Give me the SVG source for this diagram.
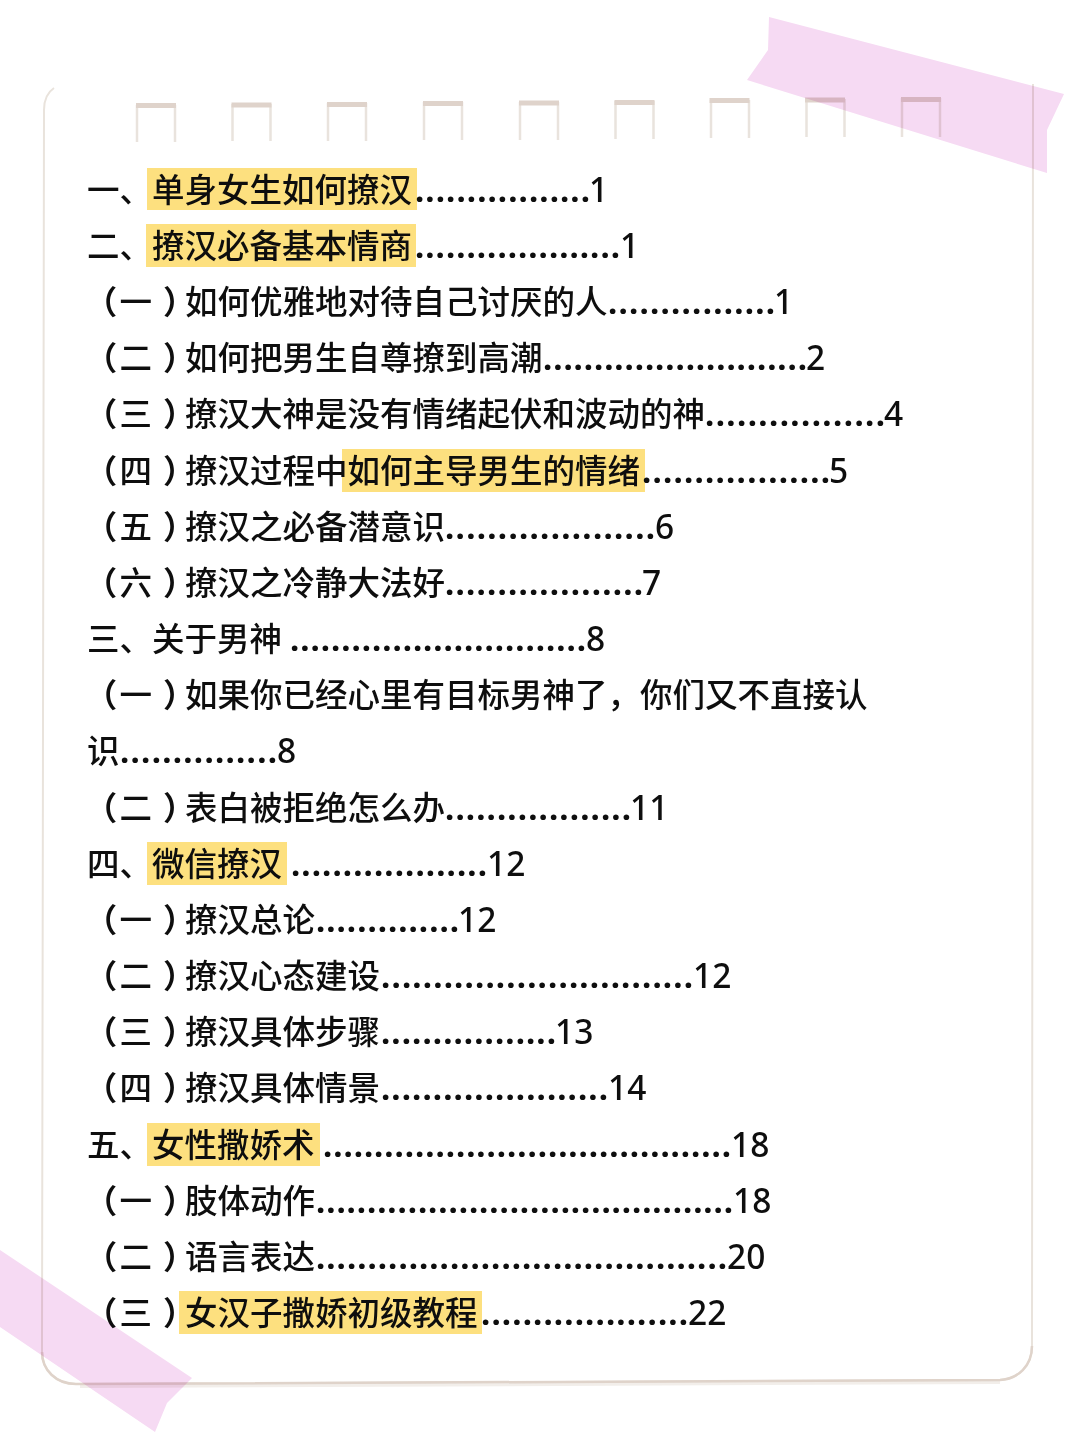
<svg xmlns="http://www.w3.org/2000/svg" width="1080" height="1440" viewBox="0 0 1080 1440">
<defs><style>
text{font-family:"Noto Sans CJK SC","Noto Sans",sans-serif;font-size:32.5px;font-weight:500;fill:#0e0e0e}
.p{font-feature-settings:"halt";font-weight:700}
.n{font-family:"Noto Sans",sans-serif;font-size:33.5px;font-weight:500}
.d{font-family:"Noto Sans",sans-serif;font-size:33px;font-weight:700}
.hl{fill:#fde07f}
.side{fill:none;stroke:#e9e3dd;stroke-width:2.5}
.top{fill:#dfd3cb}
.tape{fill:#f6daf3;mix-blend-mode:multiply}
</style></defs>
<rect width="1080" height="1440" fill="#fff"/>
<g id="page">
<path d="M80 1386L1000 1382" fill="none" stroke="#f2eeea" stroke-width="4"/>
<path d="M54 88C48 92 44 98 44 110L42 1352C42 1370 56 1384 76 1384L1000 1380C1018 1379 1032 1366 1032 1346L1033 84" fill="#fff" stroke="#e9e3dc" stroke-width="2"/>
<path d="M42 1352C42 1370 56 1384 76 1384L1000 1380C1018 1379 1032 1366 1032 1346" fill="none" stroke="#dfd3ca" stroke-width="2.500"/>
</g>
<g id="holes">
<path class="side" d="M137 142V105M175 142V105M232.500 141V104M270.500 141V104M328 141V103M366 141V103M424 140V102M462 140V102M520 140V102M558 140V102M615.500 139V101M653.500 139V101M711 138V100M749 138V100M806.500 137V99M844.500 137V99M902 137V98M940 137V98"/>
<rect class="top" x="136" y="103" width="40" height="5"/>
<rect class="top" x="231.500" y="102.500" width="40" height="5"/>
<rect class="top" x="327" y="102" width="40" height="5"/>
<rect class="top" x="423" y="101" width="40" height="5"/>
<rect class="top" x="519" y="100.500" width="40" height="5"/>
<rect class="top" x="614.500" y="100" width="40" height="5"/>
<rect class="top" x="709.500" y="98" width="40" height="5"/>
<rect class="top" x="805" y="97.500" width="40" height="5"/>
<rect class="top" x="901" y="97" width="40" height="5"/>
</g>
<g id="highlights">
<rect class="hl" x="147" y="168" width="270" height="42"/>
<rect class="hl" x="146" y="224" width="270" height="43"/>
<rect class="hl" x="342" y="449" width="303" height="43"/>
<rect class="hl" x="147" y="842" width="140" height="43"/>
<rect class="hl" x="147" y="1123" width="173" height="43"/>
<rect class="hl" x="179" y="1291" width="303" height="43"/>
</g>
<g id="toc">
<text x="87" y="202">一、单身女生如何撩汉</text><text class="d" x="415" y="202" textLength="175" lengthAdjust="spacing">.................</text><text class="n" x="589" y="202">1</text>
<text x="87" y="258">二、撩汉必备基本情商</text><text class="d" x="415" y="258" textLength="205" lengthAdjust="spacing">....................</text><text class="n" x="620" y="258">1</text>
<text y="314"><tspan class="p" x="101">（</tspan><tspan x="119.500">一</tspan><tspan class="p" x="163">）</tspan><tspan x="185">如何优雅地对待自己讨厌的人</tspan></text><text class="d" x="608" y="314" textLength="167" lengthAdjust="spacing">................</text><text class="n" x="774" y="314">1</text>
<text y="370"><tspan class="p" x="101">（</tspan><tspan x="119.500">二</tspan><tspan class="p" x="163">）</tspan><tspan x="185">如何把男生自尊撩到高潮</tspan></text><text class="d" x="543" y="370" textLength="264" lengthAdjust="spacing">..........................</text><text class="n" x="806" y="370">2</text>
<text y="426"><tspan class="p" x="101">（</tspan><tspan x="119.500">三</tspan><tspan class="p" x="163">）</tspan><tspan x="185">撩汉大神是没有情绪起伏和波动的神</tspan></text><text class="d" x="705" y="426" textLength="180" lengthAdjust="spacing">.................</text><text class="n" x="884" y="426">4</text>
<text y="483"><tspan class="p" x="101">（</tspan><tspan x="119.500">四</tspan><tspan class="p" x="163">）</tspan><tspan x="185">撩汉过程中如何主导男生的情绪</tspan></text><text class="d" x="642" y="483" textLength="188" lengthAdjust="spacing">..................</text><text class="n" x="829" y="483">5</text>
<text y="539"><tspan class="p" x="101">（</tspan><tspan x="119.500">五</tspan><tspan class="p" x="163">）</tspan><tspan x="185">撩汉之必备潜意识</tspan></text><text class="d" x="445" y="539" textLength="210" lengthAdjust="spacing">....................</text><text class="n" x="655" y="539">6</text>
<text y="595"><tspan class="p" x="101">（</tspan><tspan x="119.500">六</tspan><tspan class="p" x="163">）</tspan><tspan x="185">撩汉之冷静大法好</tspan></text><text class="d" x="445" y="595" textLength="198" lengthAdjust="spacing">...................</text><text class="n" x="642" y="595">7</text>
<text x="87" y="651">三、关于男神</text><text class="d" x="290" y="651" textLength="296" lengthAdjust="spacing">.............................</text><text class="n" x="586" y="651">8</text>
<text y="707"><tspan class="p" x="101">（</tspan><tspan x="119.500">一</tspan><tspan class="p" x="163">）</tspan><tspan x="185">如果你已经心里有目标男神了，你们又不直接认</tspan></text>
<text x="87" y="763">识</text><text class="d" x="120" y="763" textLength="157" lengthAdjust="spacing">...............</text><text class="n" x="277" y="763">8</text>
<text y="820"><tspan class="p" x="101">（</tspan><tspan x="119.500">二</tspan><tspan class="p" x="163">）</tspan><tspan x="185">表白被拒绝怎么办</tspan></text><text class="d" x="445" y="820" textLength="186" lengthAdjust="spacing">..................</text><text class="n" x="630" y="820">11</text>
<text x="87" y="876">四、微信撩汉</text><text class="d" x="291" y="876" textLength="196" lengthAdjust="spacing">...................</text><text class="n" x="487" y="876">12</text>
<text y="932"><tspan class="p" x="101">（</tspan><tspan x="119.500">一</tspan><tspan class="p" x="163">）</tspan><tspan x="185">撩汉总论</tspan></text><text class="d" x="316" y="932" textLength="143" lengthAdjust="spacing">..............</text><text class="n" x="458" y="932">12</text>
<text y="988"><tspan class="p" x="101">（</tspan><tspan x="119.500">二</tspan><tspan class="p" x="163">）</tspan><tspan x="185">撩汉心态建设</tspan></text><text class="d" x="381" y="988" textLength="312" lengthAdjust="spacing">..............................</text><text class="n" x="693" y="988">12</text>
<text y="1044"><tspan class="p" x="101">（</tspan><tspan x="119.500">三</tspan><tspan class="p" x="163">）</tspan><tspan x="185">撩汉具体步骤</tspan></text><text class="d" x="381" y="1044" textLength="175" lengthAdjust="spacing">.................</text><text class="n" x="555" y="1044">13</text>
<text y="1100"><tspan class="p" x="101">（</tspan><tspan x="119.500">四</tspan><tspan class="p" x="163">）</tspan><tspan x="185">撩汉具体情景</tspan></text><text class="d" x="381" y="1100" textLength="227" lengthAdjust="spacing">......................</text><text class="n" x="608" y="1100">14</text>
<text x="87" y="1157">五、女性撒娇术</text><text class="d" x="323" y="1157" textLength="408" lengthAdjust="spacing">........................................</text><text class="n" x="731" y="1157">18</text>
<text y="1213"><tspan class="p" x="101">（</tspan><tspan x="119.500">一</tspan><tspan class="p" x="163">）</tspan><tspan x="185">肢体动作</tspan></text><text class="d" x="316" y="1213" textLength="417" lengthAdjust="spacing">.........................................</text><text class="n" x="733" y="1213">18</text>
<text y="1269"><tspan class="p" x="101">（</tspan><tspan x="119.500">二</tspan><tspan class="p" x="163">）</tspan><tspan x="185">语言表达</tspan></text><text class="d" x="316" y="1269" textLength="411" lengthAdjust="spacing">........................................</text><text class="n" x="727" y="1269">20</text>
<text y="1325"><tspan class="p" x="101">（</tspan><tspan x="119.500">三</tspan><tspan class="p" x="163">）</tspan><tspan x="185">女汉子撒娇初级教程</tspan></text><text class="d" x="481" y="1325" textLength="207" lengthAdjust="spacing">....................</text><text class="n" x="688" y="1325">22</text>
</g>
<g id="tapes">
<polygon class="tape" points="769,17 1064,94 1047,130 1047,173 747,80 768,50"/>
<polygon class="tape" points="0,1250 192,1378 167,1403 155,1432 0,1327"/>
</g>
</svg>
